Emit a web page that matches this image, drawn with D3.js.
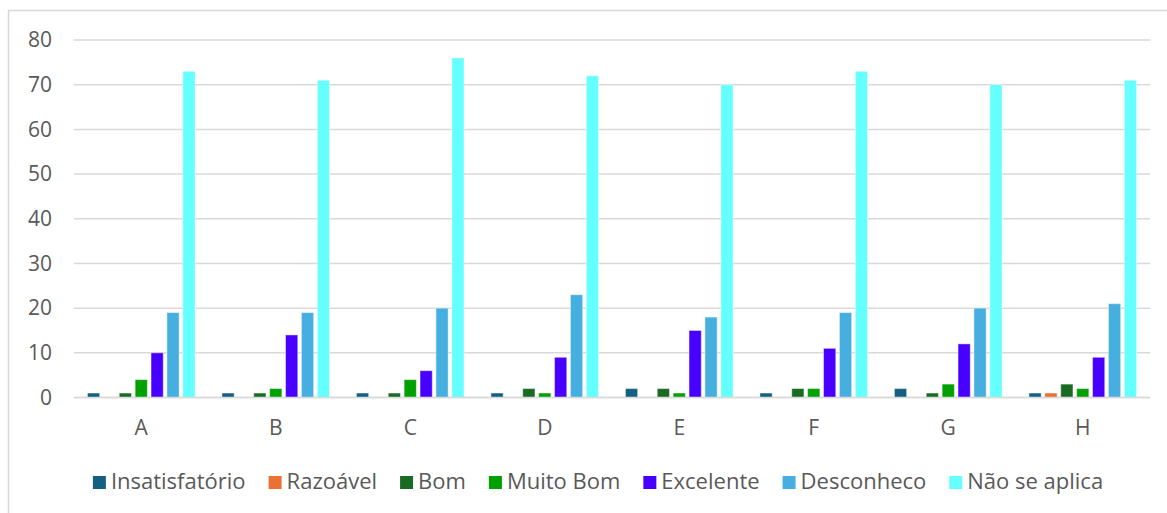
<!DOCTYPE html>
<html><head><meta charset="utf-8">
<script src="https://cdn.jsdelivr.net/npm/d3@7"></script>
<style>body{margin:0;background:#fff;}svg{display:block;font-family:"Open Sans",sans-serif;}</style>
</head><body><svg id="c" width="1167" height="513"></svg>
<script>
const categories = ["A","B","C","D","E","F","G","H"];
const seriesNames = ["Insatisfatório","Razoável","Bom","Muito Bom","Excelente","Desconheco","Não se aplica"];
const insatisfatorio = [1,1,1,1,2,1,2,1];
const razoavel      = [0,0,0,0,0,0,0,1];
const bom           = [1,1,1,2,2,2,1,3];
const muitoBom      = [4,2,4,1,1,2,3,2];
const excelente     = [10,14,6,9,15,11,12,9];
const desconheco    = [19,19,20,23,18,19,20,21];
const naoSeAplica   = [73,71,76,72,70,73,70,71];
const yTicks = [0,10,20,30,40,50,60,70,80];
const colors = ["#156082","#E97132","#196B24","#00A000","#4700FF","#47AFE0","#66FFFF"];

const seriesValues = [insatisfatorio,razoavel,bom,muitoBom,excelente,desconheco,naoSeAplica];
const FS = 21;
const svg = d3.select("#c");
svg.append("rect").attr("x",8.5).attr("y",10.5).attr("width",1200).attr("height",600)
  .attr("fill","#fff").attr("stroke","#d9d9d9").attr("stroke-width",1.5);

const x0 = d3.scaleBand().domain(categories).range([74,1150]);
const x1 = d3.scaleBand().domain(seriesNames).range([0,x0.bandwidth()]).paddingInner(0.23).paddingOuter(0.845);
const y = d3.scaleLinear().domain([0,80]).range([397.5,40]);

const grid = svg.append("g");
grid.selectAll("line").data(yTicks).join("line")
  .attr("x1",74).attr("x2",1150).attr("y1",d=>y(d)).attr("y2",d=>y(d))
  .attr("stroke","#d9d9d9").attr("stroke-width",1.5);

const yAxis = svg.append("g").attr("transform","translate(52,0)")
  .call(d3.axisLeft(y).tickValues(yTicks).tickSize(0).tickPadding(0));
yAxis.select(".domain").remove();
yAxis.selectAll("text").attr("font-size",FS).attr("fill","#595959").attr("font-family","'Open Sans',sans-serif");

const groups = svg.append("g").selectAll("g").data(categories).join("g")
  .attr("transform",d=>`translate(${x0(d)},0)`);
groups.selectAll("rect").data((c,i)=>seriesNames.map((s,j)=>({s,j,v:seriesValues[j][i]}))).join("rect")
  .attr("x",d=>x1(d.s)).attr("width",x1.bandwidth())
  .attr("y",d=>y(d.v)).attr("height",d=>y(0)-y(d.v))
  .attr("fill",d=>colors[d.j]).attr("stroke","#ffffff").attr("stroke-opacity",0.45).attr("stroke-width",1);

svg.append("line").attr("x1",74).attr("x2",1150).attr("y1",397.5).attr("y2",397.5)
  .attr("stroke","#d9d9d9").attr("stroke-width",1.5);

const xAxis = svg.append("g").attr("transform","translate(0,397.5)")
  .call(d3.axisBottom(x0).tickSize(0));
xAxis.select(".domain").remove();
xAxis.selectAll("text").attr("y",37.5).attr("dy",null).attr("font-size",FS).attr("fill","#595959").attr("font-family","'Open Sans',sans-serif");

// legend
const leg = svg.append("g");
const items = leg.selectAll("g").data(seriesNames).join("g");
items.append("rect").attr("width",13).attr("height",13).attr("y",-13).attr("fill",(d,i)=>colors[i]);
items.append("text").attr("x",18).attr("font-size",22).attr("fill","#595959").text(d=>d);
const widths=[];
items.each(function(){ const w = 18 + this.querySelector("text").getComputedTextLength(); widths.push(w); });
const gap = 23;
const total = d3.sum(widths) + gap*(widths.length-1);
let start = 598 - total/2;
items.attr("transform",(d,i)=>{ const t=`translate(${start},489)`; start += widths[i]+gap; return t; });
</script></body></html>
